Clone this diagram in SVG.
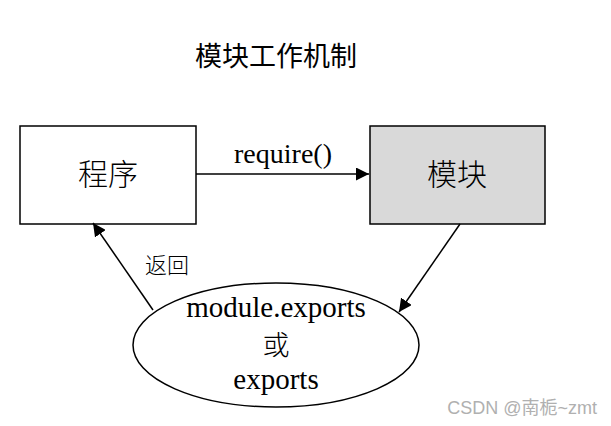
<svg xmlns="http://www.w3.org/2000/svg" width="611" height="426" viewBox="0 0 611 426">
<style>
.serif{font-family:"Liberation Serif","Noto Sans CJK SC",serif;fill:#000}
.cjk{font-family:"Noto Sans CJK SC","Liberation Sans",sans-serif;fill:#000}
.wm{font-family:"Liberation Sans","Noto Sans CJK SC",sans-serif;fill:#b0b0b0}
.node{stroke:#000;stroke-width:1.5}
.edge{stroke:#000;stroke-width:1.5;fill:none}
</style>
<defs>
<marker id="ah" viewBox="0 0 10 10" refX="10" refY="5" markerWidth="13" markerHeight="13" markerUnits="userSpaceOnUse" orient="auto">
<path d="M0,0 L10,5 L0,10 Z" fill="#000"/>
</marker>
</defs>
<rect width="611" height="426" fill="#fff"/>
<text class="cjk" x="276" y="66" font-size="27" text-anchor="middle">模块工作机制</text>
<g id="program">
<rect class="node" x="20" y="126" width="176" height="98" fill="#fff"/>
<text class="cjk" x="108" y="185" font-size="30" font-weight="300" text-anchor="middle">程序</text>
</g>
<g id="module">
<rect class="node" x="370" y="126" width="175" height="98" fill="#d9d9d9"/>
<text class="cjk" x="457" y="185" font-size="30" font-weight="300" text-anchor="middle">模块</text>
</g>
<g id="exports">
<ellipse class="node" cx="276" cy="345" rx="143" ry="62" fill="#fff"/>
<text class="serif" x="276" y="317" font-size="29" text-anchor="middle">module.exports</text>
<text class="cjk" x="276" y="355" font-size="27" font-weight="300" text-anchor="middle">或</text>
<text class="serif" x="276" y="389" font-size="29" text-anchor="middle">exports</text>
</g>
<g id="connectors">
<line class="edge" x1="196" y1="174" x2="369" y2="174" marker-end="url(#ah)"/>
<text class="serif" x="283" y="163" font-size="28" text-anchor="middle">require()</text>
<line class="edge" x1="460" y1="224" x2="399" y2="312" marker-end="url(#ah)"/>
<line class="edge" x1="153" y1="310" x2="93" y2="223" marker-end="url(#ah)"/>
<text class="cjk" x="167" y="273" font-size="22" font-weight="300" text-anchor="middle">返回</text>
</g>
<text class="wm" x="597" y="414" font-size="18" text-anchor="end">CSDN @南栀~zmt</text>
</svg>
